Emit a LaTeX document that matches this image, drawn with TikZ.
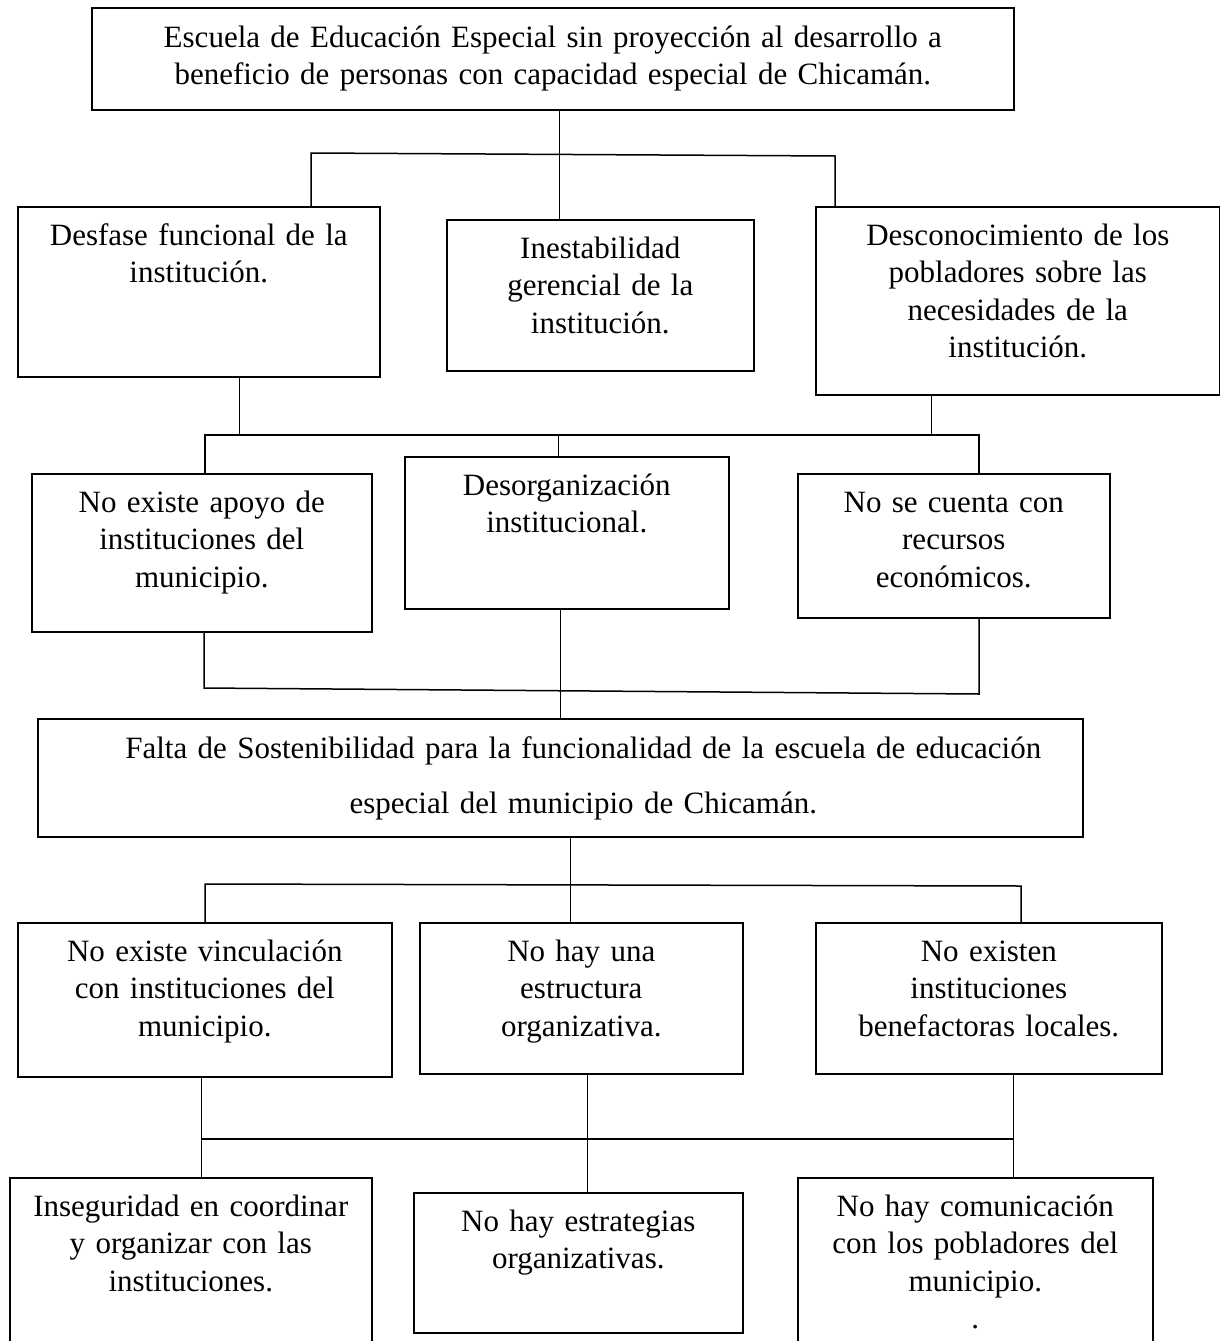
\documentclass[tikz,border=0pt]{standalone}
\usepackage{fontspec}
\setmainfont{Liberation Serif}
\usepackage{tikz}

\begin{document}
\begin{tikzpicture}[
    x=1pt,y=-1pt,
    box/.style 2 args={draw,black,line width=1.6pt,anchor=north west,inner sep=0pt,minimum width=#1pt,minimum height=#2pt},
    txt/.style={anchor=base,align=center,inner sep=0pt,text width=#1pt,font=\fontsize{31}{37.5}\selectfont},
    link/.style={black,line width=1pt},
    bar/.style={black,line width=1.5pt}
    ]
    \useasboundingbox (0,0) rectangle (1220,1341);
    % boxes
    \node[box={922}{102}] (top) at (91,7) {};
    \node[box={362}{170}] (desf) at (17,206) {};
    \node[box={307}{151}] (inest) at (446,219) {};
    \node[box={404}{188}] (desc) at (815,206) {};
    \node[box={340}{158}] (apoyo) at (31,473) {};
    \node[box={324}{152}] (desorg) at (404,456) {};
    \node[box={312}{144}] (recur) at (797,473) {};
    \node[box={1045}{118}] (falta) at (37,718) {};
    \node[box={374}{154}] (vinc) at (17,922) {};
    \node[box={323}{151}] (estruc) at (419,922) {};
    \node[box={346}{151}] (benef) at (815,922) {};
    \node[box={362}{190}] (insec) at (9,1177) {};
    \node[box={329}{140}] (estrat) at (413,1192) {};
    \node[box={355}{190}] (comun) at (797,1177) {};
    % texts
    \node[txt=900] (topt) at ([yshift=-40pt]top.north) {Escuela de Educación Especial sin proyección al desarrollo a\\beneficio de personas con capacidad especial de Chicamán.};
    \node[txt=360] (desft) at ([yshift=-39pt]desf.north) {Desfase funcional de la\\institución.};
    \node[txt=300] (inestt) at ([yshift=-39pt]inest.north) {Inestabilidad\\gerencial de la\\institución.};
    \node[txt=400] (desct) at ([yshift=-39pt]desc.north) {Desconocimiento de los\\pobladores sobre las\\necesidades de la\\institución.};
    \node[txt=340] (apoyot) at ([yshift=-39pt]apoyo.north) {No existe apoyo de\\instituciones del\\municipio.};
    \node[txt=320] (desorgt) at ([yshift=-39pt]desorg.north) {Desorganización\\institucional.};
    \node[txt=310] (recurt) at ([yshift=-39pt]recur.north) {No se cuenta con\\recursos\\económicos.};
    \node[txt=1000,font=\fontsize{31}{55}\selectfont] (faltat) at ([xshift=23pt,yshift=-40pt]falta.north) {Falta de Sostenibilidad para la funcionalidad de la escuela de educación\\especial del municipio de Chicamán.};
    \node[txt=370] (vinct) at ([yshift=-39pt]vinc.north) {No existe vinculación\\con instituciones del\\municipio.};
    \node[txt=320] (estruct) at ([yshift=-39pt]estruc.north) {No hay una\\estructura\\organizativa.};
    \node[txt=345] (beneft) at ([yshift=-39pt]benef.north) {No existen\\instituciones\\benefactoras locales.};
    \node[txt=360] (insect) at ([yshift=-39pt]insec.north) {Inseguridad en coordinar\\y organizar con las\\instituciones.};
    \node[txt=325] (estratt) at ([yshift=-39pt]estrat.north) {No hay estrategias\\organizativas.};
    \node[txt=350] (comunt) at ([yshift=-39pt]comun.north) {No hay comunicación\\con los pobladores del\\municipio.\\.};
    % junctions
    \coordinate (j1) at (559,154);
    \coordinate (j1l) at (311,153);
    \coordinate (j1r) at (835,156);
    \coordinate (j2) at (558,435);
    \coordinate (j2a) at (239,435);
    \coordinate (j2b) at (931,435);
    \coordinate (j2l) at (205,435);
    \coordinate (j2r) at (979,435);
    \coordinate (j3) at (560,691);
    \coordinate (j3l) at (204,688);
    \coordinate (j3r) at (979,694);
    \coordinate (j4) at (570,885);
    \coordinate (j4l) at (205,884);
    \coordinate (j4r) at (1021,886);
    \coordinate (j5) at (587,1139);
    \coordinate (j5l) at (201,1139);
    \coordinate (j5r) at (1013,1139);
    % connectors
    \draw[link] (top.south -| j1) -- (inest.north -| j1);
    \draw[bar] (desf.north -| j1l) -- (j1l) -- (j1r) -- (desc.north -| j1r);
    \draw[link] (desf.south -| j2a) -- (j2a);
    \draw[link] (desc.south -| j2b) -- (j2b);
    \draw[bar] (apoyo.north -| j2l) -- (j2l) -- (j2r) -- (recur.north -| j2r);
    \draw[link] (j2) -- (desorg.north -| j2);
    \draw[bar] (apoyo.south -| j3l) -- (j3l) -- (j3r) -- (recur.south -| j3r);
    \draw[link] (desorg.south -| j3) -- (falta.north -| j3);
    \draw[link] (falta.south -| j4) -- (estruc.north -| j4);
    \draw[bar] (vinc.north -| j4l) -- (j4l) -- (j4r) -- (benef.north -| j4r);
    \draw[link] (vinc.south -| j5l) -- (insec.north -| j5l);
    \draw[link] (estruc.south -| j5) -- (estrat.north -| j5);
    \draw[link] (benef.south -| j5r) -- (comun.north -| j5r);
    \draw[bar] (j5l) -- (j5r);
\end{tikzpicture}
\end{document}
